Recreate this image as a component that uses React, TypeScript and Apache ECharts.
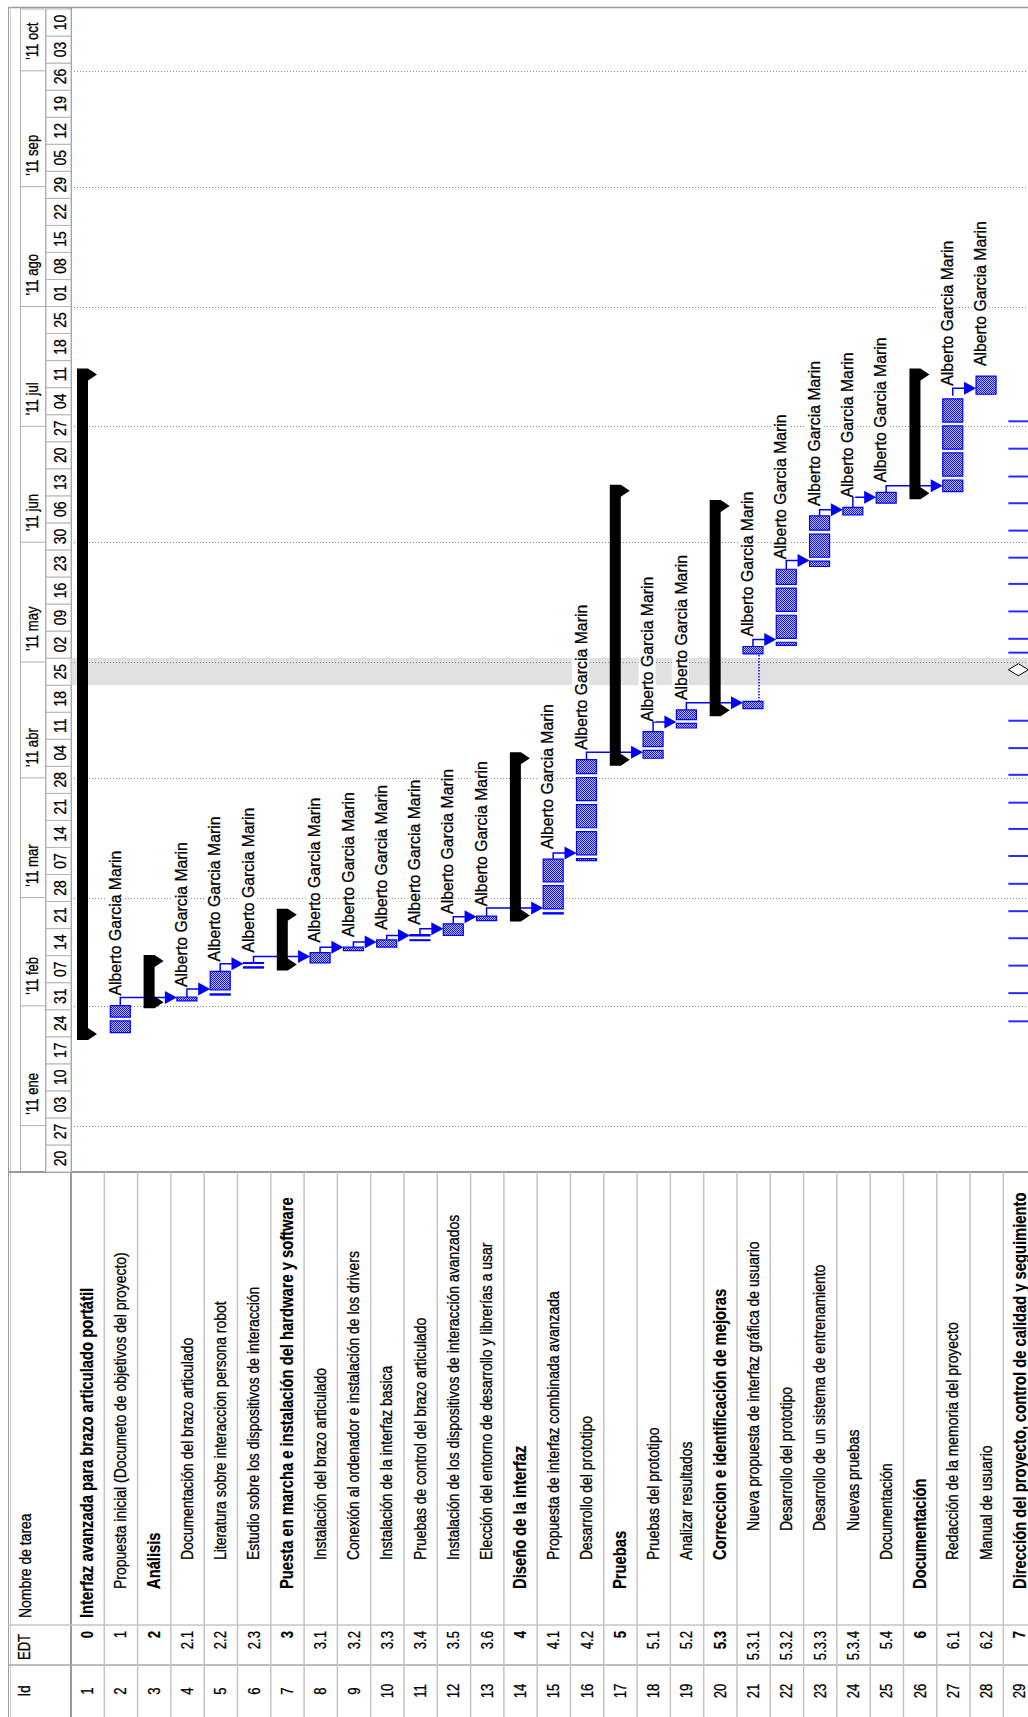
import { useEffect, useRef } from 'react';
import * as echarts from 'echarts';

// ---------------- data ----------------
const taskIds = ['1','2','3','4','5','6','7','8','9','10','11','12','13','14','15','16','17','18','19','20','21','22','23','24','25','26','27','28','29'];
const wbsCodes = ['0','1','2','2.1','2.2','2.3','3','3.1','3.2','3.3','3.4','3.5','3.6','4','4.1','4.2','5','5.1','5.2','5.3','5.3.1','5.3.2','5.3.3','5.3.4','5.4','6','6.1','6.2','7'];
const taskNames = [
  'Interfaz avanzada para brazo articulado portátil',
  'Propuesta inicial (Documeto de objetivos del proyecto)',
  'Análisis',
  'Documentación del brazo articulado',
  'Literatura sobre interaccion persona robot',
  'Estudio sobre los dispositivos de interacción',
  'Puesta en marcha e instalación del hardware y software',
  'Instalación del brazo articulado',
  'Conexión al ordenador e instalación de los drivers',
  'Instalación de la interfaz basica',
  'Pruebas de control del brazo articulado',
  'Instalación de los dispositivos de interacción avanzados',
  'Elección del entorno de desarrollo y librerías a usar',
  'Diseño de la interfaz',
  'Propuesta de interfaz combinada avanzada',
  'Desarrollo del prototipo',
  'Pruebas',
  'Pruebas del prototipo',
  'Analizar resultados',
  'Correccion e identificación de mejoras',
  'Nueva propuesta de interfaz gráfica de usuario',
  'Desarrollo del prototipo',
  'Desarrollo de un sistema de entrenamiento',
  'Nuevas pruebas',
  'Documentación',
  'Documentación',
  'Redacción de la memoria del proyecto',
  'Manual de usuario',
  'Dirección del proyecto, control de calidad y seguimiento',
];
const outlineLevels = [0,1,1,2,2,2,1,2,2,2,2,2,2,1,2,2,1,2,2,2,3,3,3,3,2,1,2,2,1];
const boldRows = [1,3,7,14,17,20,26,29];
const summaryRows = [1,3,7,14,17,20,26];

const resourceName = 'Alberto Garcia Marin';

const taskRows = [2,4,5,6,8,9,10,11,12,13,15,16,18,19,22,23,24,25,27,28];
const taskStarts = [
  '2011-01-25T02:00','2011-02-02T07:00','2011-02-03T19:00','2011-02-10T19:00','2011-02-12T02:00',
  '2011-02-15T07:00','2011-02-16T05:00','2011-02-18T00:00','2011-02-19T05:00','2011-02-23T02:00',
  '2011-02-24T19:00','2011-03-10T14:00','2011-04-06T02:00','2011-04-13T22:00','2011-05-05T07:00',
  '2011-05-25T17:00','2011-06-08T02:00','2011-06-11T02:00','2011-06-14T02:00','2011-07-09T07:00',
];
const taskEnds = [
  '2011-02-01T02:00','2011-02-03T07:00','2011-02-09T22:00','2011-02-12T05:00','2011-02-14T19:00',
  '2011-02-16T05:00','2011-02-18T02:00','2011-02-19T10:00','2011-02-22T05:00','2011-02-24T05:00',
  '2011-03-11T00:00','2011-04-05T17:00','2011-04-13T00:00','2011-04-18T14:00','2011-05-25T00:00',
  '2011-06-07T19:00','2011-06-10T00:00','2011-06-13T22:00','2011-07-08T22:00','2011-07-14T00:00',
];

const splitRow = 21;
const splitStarts = ['2011-04-18T22:00','2011-05-03T02:00'];
const splitEnds = ['2011-04-20T19:00','2011-05-05T00:00'];

const linkFrom = [2,4,5,6,8,9,10,11,12,13,15,16,18,19,21,22,23,24,25,27];
const linkTo   = [4,5,6,8,9,10,11,12,13,15,16,18,19,21,22,23,24,25,27,28];

const meetingRow = 29;
const meetingDates = [
  '2011-01-28T00:00','2011-02-04T07:00','2011-02-11T10:00','2011-02-18T12:00','2011-02-25T12:00',
  '2011-03-04T14:00','2011-03-11T19:00','2011-03-18T19:00','2011-03-25T14:00','2011-04-01T19:00',
  '2011-04-08T17:00','2011-04-15T19:00','2011-05-03T10:00','2011-05-07T00:00','2011-05-14T02:00',
  '2011-05-21T05:00','2011-05-28T00:00','2011-06-04T00:00','2011-06-11T02:00','2011-06-18T00:00',
  '2011-06-25T05:00','2011-07-02T07:00',
];
const meetingMilestone = '2011-04-29T00:00';

const holidayStart = '2011-04-25';
const holidayEnd = '2011-05-02';

const timescaleStart = '2010-12-20';
const timescaleEnd = '2011-10-17';
const monthStarts = ['2011-01-01','2011-02-01','2011-03-01','2011-04-01','2011-05-01','2011-06-01','2011-07-01','2011-08-01','2011-09-01','2011-10-01'];
const monthLabels = ["'11 ene","'11 feb","'11 mar","'11 abr","'11 may","'11 jun","'11 jul","'11 ago","'11 sep","'11 oct"];

// ---------------- helpers ----------------
const DAY = 86400000;
const parseT = (s: string) => {
  const [d, t = '00:00'] = s.split('T');
  const [Y, M, D] = d.split('-').map(Number);
  const [h, mi] = t.split(':').map(Number);
  return Date.UTC(Y, M - 1, D, h, mi);
};
const T0 = parseT(timescaleStart);
const T1 = parseT(timescaleEnd);
const X_MAX = 28.74;

const FONT = '"Liberation Sans", Arial, sans-serif';
const NARROW = 0.82;
const BLUE = '#0000ff';

function makeBarFill(): any {
  try {
    const c = document.createElement('canvas');
    c.width = 2; c.height = 2;
    const g = c.getContext('2d');
    if (!g) return '#5f5ff6';
    g.fillStyle = '#1414ff'; g.fillRect(0, 0, 2, 2);
    g.fillStyle = '#b8b8ff'; g.fillRect(1, 0, 1, 1); g.fillRect(0, 1, 1, 1);
    return { image: c.toDataURL(), repeat: 'repeat', imageWidth: 2, imageHeight: 2 };
  } catch (e) {
    return '#5f5ff6';
  }
}

function vText(x: number, y: number, text: string, o: any = {}) {
  return {
    type: 'text',
    x, y,
    rotation: Math.PI / 2,
    scaleX: o.scale ?? NARROW,
    scaleY: 1,
    silent: true,
    style: {
      text,
      fontSize: o.size ?? 16,
      fontFamily: FONT,
      fontWeight: o.bold ? 'bold' : 'normal',
      fill: '#000',
      stroke: '#000',
      lineWidth: o.bold ? 0.2 : 0.3,
      align: o.align ?? 'left',
      verticalAlign: 'middle',
      backgroundColor: o.bg,
    },
  };
}

function workSegments(s: number, e: number): [number, number][] {
  const gaps: [number, number][] = [];
  for (let d = Math.floor(s / DAY) * DAY - 2 * DAY; d <= e + 2 * DAY; d += DAY) {
    if (new Date(d).getUTCDay() === 6) gaps.push([d - 0.9 * DAY, d + 0.1 * DAY]);
  }
  let segs: [number, number][] = [[s, e]];
  gaps.forEach(([g0, g1]) => {
    const next: [number, number][] = [];
    segs.forEach(([a, b]) => {
      if (g1 <= a || g0 >= b) { next.push([a, b]); return; }
      if (g0 > a) next.push([a, g0]);
      if (g1 < b) next.push([g1, b]);
    });
    segs = next;
  });
  return segs;
}

function leafRange(row: number): [number, number] | null {
  const k = taskRows.indexOf(row);
  if (k >= 0) return [parseT(taskStarts[k]), parseT(taskEnds[k])];
  if (row === splitRow) return [parseT(splitStarts[0]), parseT(splitEnds[splitEnds.length - 1])];
  if (row === meetingRow) {
    const ts = meetingDates.map(parseT);
    return [Math.min(...ts), Math.max(...ts)];
  }
  return null;
}

function summaryRange(row: number): [number, number] {
  const L = outlineLevels[row - 1];
  let lo = Infinity, hi = -Infinity;
  for (let j = row + 1; j <= taskIds.length && outlineLevels[j - 1] > L; j++) {
    const r = leafRange(j);
    if (r) { lo = Math.min(lo, r[0]); hi = Math.max(hi, r[1]); }
  }
  return [lo, hi];
}

function buildOption(): any {
  const BAR_FILL = makeBarFill();
  const rowLeft = (api: any, row: number) => api.coord([row - 1, T0])[0];
  const yAt = (api: any, t: number) => api.coord([0, t])[1];

  const hs = parseT(holidayStart), he = parseT(holidayEnd);
  const months = monthStarts.map(parseT);

  const weeks: number[] = [];
  for (let t = T0; t < T1; t += 7 * DAY) weeks.push(t);

  const monthCells: number[][] = [[T0, months[0]]];
  months.forEach((m, i) => monthCells.push([m, i + 1 < months.length ? months[i + 1] : T1]));

  const tasks = taskRows.map((r, i) => [r - 1, parseT(taskStarts[i]), parseT(taskEnds[i])]);
  const labelItems = tasks.map((t) => [t[0], t[2]]);
  labelItems.push([splitRow - 1, parseT(splitEnds[splitEnds.length - 1])]);
  labelItems.sort((a, b) => a[0] - b[0]);

  const links = linkFrom.map((f, i) => {
    const pr = leafRange(f)!;
    const sr = leafRange(linkTo[i])!;
    return [f - 1, pr[1], linkTo[i] - 1, sr[0], sr[1]];
  });

  const summaries = summaryRows.map((r) => {
    const [a, b] = summaryRange(r);
    return [r - 1, a, b];
  });

  const base = { type: 'custom', silent: true, animation: false, clip: false };
  const barRect = (l: number, y1: number, h: number) => ({
    type: 'rect',
    shape: { x: l + 6, y: y1, width: 20, height: h },
    style: { fill: BAR_FILL, stroke: BLUE, lineWidth: 1.2 },
  });

  return {
    animation: false,
    backgroundColor: '#ffffff',
    grid: { left: 71, right: 0, top: 9, bottom: 545 },
    xAxis: { type: 'value', min: 0, max: X_MAX, show: false, splitLine: { show: false } },
    yAxis: { type: 'time', min: T0, max: T1, show: false, splitLine: { show: false } },
    graphic: [
      { type: 'line', silent: true, shape: { x1: 8, y1: 7.5, x2: 1028, y2: 7.5 }, style: { stroke: '#9a9a9a', lineWidth: 1.5 } },
      { type: 'line', silent: true, shape: { x1: 8.5, y1: 7, x2: 8.5, y2: 1717 }, style: { stroke: '#9a9a9a', lineWidth: 1 } },
      { type: 'line', silent: true, shape: { x1: 10.5, y1: 7, x2: 10.5, y2: 1717 }, style: { stroke: '#cfcfcf', lineWidth: 1 } },
      { type: 'line', silent: true, shape: { x1: 20.5, y1: 7, x2: 20.5, y2: 1172 }, style: { stroke: '#b0b0b0', lineWidth: 1 } },
      { type: 'line', silent: true, shape: { x1: 45.5, y1: 9, x2: 45.5, y2: 1172 }, style: { stroke: '#b0b0b0', lineWidth: 1 } },
      { type: 'line', silent: true, shape: { x1: 71, y1: 7, x2: 71, y2: 1717 }, style: { stroke: '#9a9a9a', lineWidth: 2 } },
      { type: 'line', silent: true, shape: { x1: 8, y1: 1172, x2: 1028, y2: 1172 }, style: { stroke: '#9a9a9a', lineWidth: 2 } },
      { type: 'line', silent: true, shape: { x1: 8, y1: 1625, x2: 1028, y2: 1625 }, style: { stroke: '#c4c4c4', lineWidth: 1.5 } },
      { type: 'line', silent: true, shape: { x1: 8, y1: 1665, x2: 1028, y2: 1665 }, style: { stroke: '#a8a8a8', lineWidth: 1.5 } },
      vText(25, 1618, 'Nombre de tarea', { size: 17 }),
      vText(25, 1647, 'EDT', { size: 16, align: 'center' }),
      vText(25, 1691, 'Id', { size: 16, align: 'center' }),
    ],
    series: [
      // holiday band
      {
        ...base,
        data: [[0, hs, he]],
        renderItem: (_p: any, api: any) => {
          const x0 = api.coord([0, T0])[0];
          const x1 = api.coord([X_MAX, T0])[0];
          const yTop = yAt(api, api.value(2));
          const yBot = yAt(api, api.value(1));
          return { type: 'rect', shape: { x: x0, y: yTop, width: x1 - x0, height: yBot - yTop }, style: { fill: '#e1e1e1' } };
        },
      },
      // month gridlines
      {
        ...base,
        data: months.map((m) => [0, m]),
        renderItem: (_p: any, api: any) => {
          const y = Math.round(yAt(api, api.value(1))) + 0.5;
          const x0 = api.coord([0, T0])[0];
          const x1 = api.coord([X_MAX, T0])[0];
          return { type: 'line', shape: { x1: x0, y1: y, x2: x1, y2: y }, style: { stroke: '#8a8a8a', lineWidth: 1, lineDash: [1, 2] } };
        },
      },
      // week tier of timescale
      {
        ...base,
        data: weeks.map((w) => [0, w]),
        renderItem: (_p: any, api: any) => {
          const t = api.value(1);
          const yBot = yAt(api, t);
          const yTop = Math.max(yAt(api, t + 7 * DAY), yAt(api, T1));
          const lbl = String(new Date(t).getUTCDate()).padStart(2, '0');
          return {
            type: 'group',
            children: [
              { type: 'rect', shape: { x: 46, y: yTop, width: 25, height: yBot - yTop }, style: { fill: '#fff', stroke: '#b4b4b4', lineWidth: 1 } },
              vText(60, (yTop + yBot) / 2, lbl, { size: 17, align: 'center' }),
            ],
          };
        },
      },
      // month tier of timescale
      {
        ...base,
        data: monthCells.map((c) => [0, c[0], c[1]]),
        renderItem: (p: any, api: any) => {
          const yBot = yAt(api, api.value(1));
          const yTop = yAt(api, api.value(2));
          const children: any[] = [
            { type: 'line', shape: { x1: 20.5, y1: yTop, x2: 45.5, y2: yTop }, style: { stroke: '#b0b0b0', lineWidth: 1 } },
          ];
          if (p.dataIndex > 0) children.push(vText(33, yBot - 11, monthLabels[p.dataIndex - 1], { size: 16 }));
          return { type: 'group', children };
        },
      },
      // table rows
      {
        ...base,
        data: taskIds.map((_id, i) => [i, T0]),
        renderItem: (p: any, api: any) => {
          const i = p.dataIndex;
          const row = i + 1;
          const l = rowLeft(api, row);
          const r = rowLeft(api, row + 1);
          const c = (l + r) / 2;
          const bold = boldRows.includes(row);
          return {
            type: 'group',
            children: [
              { type: 'line', shape: { x1: r, y1: 1172, x2: r, y2: 1717 }, style: { stroke: '#c4c4c4', lineWidth: 1.5 } },
              vText(c, 1691, taskIds[i], { size: 16, align: 'center' }),
              vText(c, 1631, wbsCodes[i], { size: 16, align: 'right', bold }),
              vText(c - 1, 1618 - 29 * outlineLevels[i], taskNames[i], { size: bold ? 18 : 17, bold }),
            ],
          };
        },
      },
      // links
      {
        ...base,
        data: links,
        renderItem: (_p: any, api: any) => {
          const pl = api.coord([api.value(0), T0])[0];
          const sl = api.coord([api.value(2), T0])[0];
          const px = pl + 16;
          const py = yAt(api, api.value(1));
          const ys = yAt(api, api.value(3));
          const ye = yAt(api, api.value(4));
          const off = Math.min(6, (ys - ye) / 2 + 1.5);
          const ay = Math.min(py, ys) - off;
          const sx = sl + 6;
          return {
            type: 'group',
            children: [
              { type: 'polyline', shape: { points: [[px, py], [px, ay], [sx - 11, ay]] }, style: { stroke: BLUE, lineWidth: 1.5, fill: 'none' } },
              { type: 'polygon', shape: { points: [[sx - 12, ay - 6.5], [sx, ay], [sx - 12, ay + 6.5]] }, style: { fill: BLUE } },
            ],
          };
        },
      },
      // summary bars
      {
        ...base,
        data: summaries,
        renderItem: (_p: any, api: any) => {
          const l = api.coord([api.value(0), T0])[0];
          const x0 = l + 6, x1 = l + 17, x2 = l + 26;
          const yb = yAt(api, api.value(1)) + 7.5;
          const yt = yAt(api, api.value(2)) - 7.5;
          return {
            type: 'polygon',
            shape: { points: [[x0, yb], [x0, yt], [x1, yt], [x2, yt + 6], [x1, yt + 12], [x1, yb - 12], [x2, yb - 6], [x1, yb]] },
            style: { fill: '#000' },
          };
        },
      },
      // task bars
      {
        ...base,
        data: tasks,
        renderItem: (_p: any, api: any) => {
          const l = api.coord([api.value(0), T0])[0];
          const segs = workSegments(api.value(1), api.value(2));
          return {
            type: 'group',
            children: segs.map(([a, b]) => {
              const y1 = yAt(api, b), y0 = yAt(api, a);
              return barRect(l, y1, Math.max(0.8, y0 - y1));
            }),
          };
        },
      },
      // split task
      {
        ...base,
        data: [[splitRow - 1, T0]],
        renderItem: (_p: any, api: any) => {
          const l = api.coord([api.value(0), T0])[0];
          const parts = splitStarts.map((s, k) => [parseT(s), parseT(splitEnds[k])]);
          const children: any[] = [];
          for (let k = 0; k + 1 < parts.length; k++) {
            children.push({ type: 'line', shape: { x1: l + 22, y1: yAt(api, parts[k][1]), x2: l + 22, y2: yAt(api, parts[k + 1][0]) }, style: { stroke: BLUE, lineWidth: 1.5, lineDash: [1.5, 1.5] } });
          }
          parts.forEach(([a, b]) => {
            workSegments(a, b).forEach(([s, e]) => {
              const y1 = yAt(api, e), y0 = yAt(api, s);
              children.push(barRect(l, y1, y0 - y1));
            });
          });
          return { type: 'group', children };
        },
      },
      // recurring task (meetings)
      {
        ...base,
        data: meetingDates.map((d) => [meetingRow - 1, parseT(d)]),
        renderItem: (_p: any, api: any) => {
          const l = api.coord([api.value(0), T0])[0];
          const y = yAt(api, api.value(1));
          return { type: 'line', shape: { x1: l + 5, y1: y, x2: l + 30, y2: y }, style: { stroke: '#2a2aff', lineWidth: 2 } };
        },
      },
      // milestone occurrence
      {
        ...base,
        data: [[meetingRow - 1, parseT(meetingMilestone)]],
        renderItem: (_p: any, api: any) => {
          const l = api.coord([api.value(0), T0])[0];
          const y = yAt(api, api.value(1));
          const cx = l + 15;
          return { type: 'polygon', shape: { points: [[cx - 10, y], [cx, y - 6], [cx + 10, y], [cx, y + 6]] }, style: { fill: '#fff', stroke: '#000', lineWidth: 1 } };
        },
      },
      // resource labels
      {
        ...base,
        data: labelItems,
        renderItem: (_p: any, api: any) => {
          const l = api.coord([api.value(0), T0])[0];
          const y = yAt(api, api.value(1)) - 10;
          return vText(l + 10, y, resourceName, { size: 17, scale: 0.93, bg: '#ffffff' });
        },
      },
    ],
  };
}

export default function App() {
  const ref = useRef<HTMLDivElement>(null);
  useEffect(() => {
    document.body.style.margin = '0';
    const chart = echarts.init(ref.current!, null, { renderer: 'svg' });
    chart.setOption(buildOption());
    return () => chart.dispose();
  }, []);
  return <div ref={ref} style={{ width: 1028, height: 1717, background: '#fff' }} />;
}
